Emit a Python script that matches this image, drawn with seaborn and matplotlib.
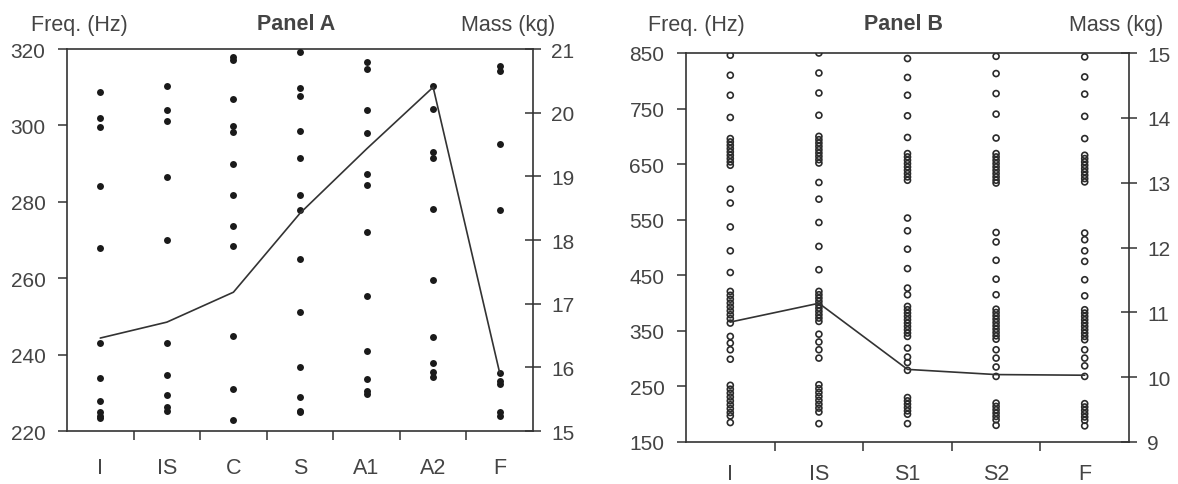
import numpy as np
import pandas as pd
import matplotlib
matplotlib.use("Agg")
import matplotlib.pyplot as plt
import seaborn as sns

sns.set_style("ticks")
plt.rcParams["font.family"] = ["Liberation Sans", "DejaVu Sans"]

INK = "#333333"
TEXT = "#444444"

# ---------------- Panel A: filled dots (frequency) + mass line ----------------
cats_a = ["I", "IS", "C", "S", "A1", "A2", "F"]
freq_a_I = [308.7, 301.9, 299.5, 284.2, 267.8, 243.0, 233.8, 227.9, 224.9, 224.0, 223.4]
freq_a_IS = [310.4, 304.1, 301.2, 286.4, 270.1, 243.1, 234.6, 229.3, 226.2, 225.3]
freq_a_C = [317.8, 317.2, 306.9, 299.8, 298.2, 289.9, 281.9, 273.7, 268.5, 244.9, 230.9, 223.0]
freq_a_S = [319.3, 309.7, 307.6, 298.6, 291.4, 281.9, 277.9, 265.0, 251.1, 236.7, 228.8, 225.3, 224.9]
freq_a_A1 = [316.7, 314.8, 304.1, 298.0, 287.3, 284.5, 272.0, 255.4, 240.9, 233.7, 230.6, 229.7]
freq_a_A2 = [310.4, 304.4, 293.1, 291.4, 278.1, 259.4, 244.5, 237.8, 235.4, 234.1]
freq_a_F = [315.5, 314.3, 295.1, 277.9, 235.1, 233.2, 232.2, 224.9, 224.0]
mass_a = [16.46, 16.71, 17.18, 18.42, 19.43, 20.40, 15.91]
freq_ticks_a = [220, 240, 260, 280, 300, 320]
mass_ticks_a = [15, 16, 17, 18, 19, 20, 21]

# ---------------- Panel B: open circles (frequency) + mass line ----------------
cats_b = ["I", "IS", "S1", "S2", "F"]
freq_b_I = [846, 810, 774, 734, 696, 690, 684, 678, 672, 666, 660, 654, 648, 605, 580, 537,
            494, 455, 421, 414, 407, 400, 393, 386, 379, 372, 364, 340, 328, 316, 299,
            252, 245, 238, 231, 224, 217, 210, 203, 197, 185]
freq_b_IS = [850, 814, 778, 738, 700, 694, 688, 682, 676, 670, 664, 658, 652, 617, 587, 545,
             502, 460, 421, 415, 409, 403, 397, 391, 385, 379, 373, 367, 344, 330, 316, 301,
             253, 246, 239, 232, 225, 218, 211, 204, 183]
freq_b_S1 = [840, 806, 774, 737, 698, 669, 663, 657, 651, 645, 639, 633, 627, 621, 553, 530,
             497, 462, 427, 415, 394, 388, 382, 376, 370, 364, 358, 352, 346, 340, 319, 303,
             293, 279, 230, 224, 218, 212, 206, 200, 183]
freq_b_S2 = [844, 813, 777, 740, 697, 669, 663, 657, 651, 645, 639, 633, 627, 621, 616, 527,
             510, 477, 443, 415, 389, 383, 377, 371, 365, 359, 353, 347, 341, 335, 316, 301,
             285, 268, 220, 214, 208, 202, 196, 190, 180]
freq_b_F = [843, 807, 776, 736, 696, 666, 660, 654, 648, 642, 636, 630, 624, 618, 526, 514,
            494, 475, 442, 413, 388, 382, 376, 370, 364, 358, 352, 346, 340, 334, 316, 301,
            287, 268, 219, 213, 207, 201, 195, 189, 179]
mass_b = [10.85, 11.14, 10.12, 10.04, 10.03]
freq_ticks_b = [150, 250, 350, 450, 550, 650, 750, 850]
mass_ticks_b = [9, 10, 11, 12, 13, 14, 15]


def long_table(cats, columns):
    rows = []
    for c, vals in zip(cats, columns):
        rows.extend((c, v) for v in vals)
    return pd.DataFrame(rows, columns=["group", "freq"])


W, H = 1178, 485
fig = plt.figure(figsize=(W / 100, H / 100), dpi=100)


def px_axes(left, top, right, bottom):
    return fig.add_axes([left / W, 1 - bottom / H, (right - left) / W, (bottom - top) / H])


def draw_panel(ax, cats, columns, mass, fticks, mticks, open_marks, xpad, title, xl, xc, xr):
    df = long_table(cats, columns)
    if open_marks:
        sns.stripplot(data=df, x="group", y="freq", order=cats, jitter=False, ax=ax,
                      color=INK, facecolors="none", edgecolor="#2b2b2b",
                      linewidth=1.2, size=4.3, zorder=3)
    else:
        sns.stripplot(data=df, x="group", y="freq", order=cats, jitter=False, ax=ax,
                      color="#1a1a1a", linewidth=0, size=5.0, zorder=3)
    ax.set_ylim(fticks[0], fticks[-1])
    ax.set_yticks(fticks)
    ax.set_xlabel("")
    ax.set_ylabel("")

    ax2 = ax.twinx()
    sns.pointplot(x=cats, y=mass, order=cats, ax=ax2, markers="", color=INK,
                  linewidth=1.2, errorbar=None)
    ax2.set_ylim(mticks[0], mticks[-1])
    ax2.set_yticks(mticks)
    ax2.set_ylabel("")

    n = len(cats)
    ax.set_xlim(-0.5, n - 0.5)
    ax.set_xticks(range(n), labels=cats)
    ax.set_xticks([i + 0.5 for i in range(n - 1)], minor=True)
    ax.tick_params(axis="x", which="major", length=0, pad=xpad, labelsize=15.5,
                   labelcolor=TEXT)
    ax.tick_params(axis="x", which="minor", length=6.5, width=1.1, color=INK,
                   direction="out")
    ax.tick_params(axis="y", which="major", length=6.5, width=1.1, color=INK,
                   direction="out", pad=9, labelsize=15, labelcolor=TEXT)
    ax2.tick_params(axis="y", which="major", length=12, width=1.1, color=INK,
                    direction="inout", pad=7, labelsize=15, labelcolor=TEXT)

    for name, sp in ax.spines.items():
        sp.set_visible(name != "right")
        sp.set_color(INK)
        sp.set_linewidth(1.2)
    for name, sp in ax2.spines.items():
        sp.set_visible(name == "right")
        sp.set_color(INK)
        sp.set_linewidth(1.2)

    ty = 1 - 25 / H
    fig.text(xl / W, ty, "Freq. (Hz)", ha="left", va="center", fontsize=15.5, color=TEXT)
    fig.text(xc / W, ty, title, ha="center", va="center", fontsize=15.5,
             fontweight="bold", color=TEXT)
    fig.text(xr / W, ty, "Mass (kg)", ha="right", va="center", fontsize=15.5, color=TEXT)


ax_a = px_axes(67, 50, 533, 432)
draw_panel(ax_a, cats_a,
           [freq_a_I, freq_a_IS, freq_a_C, freq_a_S, freq_a_A1, freq_a_A2, freq_a_F],
           mass_a, freq_ticks_a, mass_ticks_a, False, 19, "Panel A", 31, 296, 555)

ax_b = px_axes(686, 54, 1129, 443)
draw_panel(ax_b, cats_b,
           [freq_b_I, freq_b_IS, freq_b_S1, freq_b_S2, freq_b_F],
           mass_b, freq_ticks_b, mass_ticks_b, True, 15, "Panel B", 648, 903, 1163)

fig.savefig("out.png", dpi=100, facecolor="white")
